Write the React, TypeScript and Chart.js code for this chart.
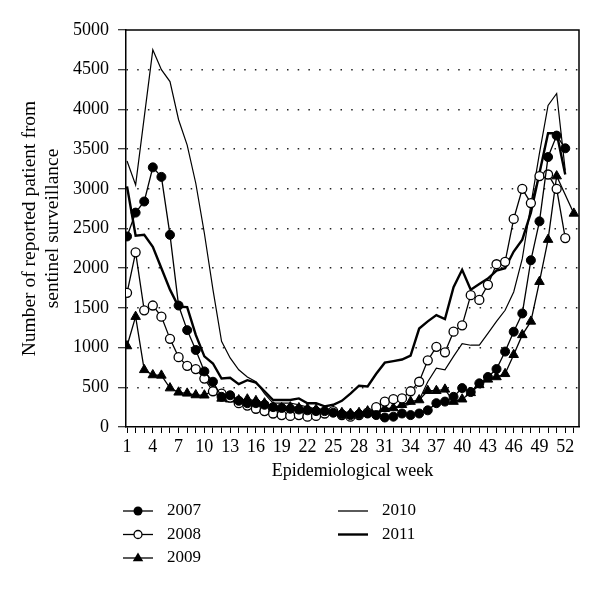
import React, { useEffect, useRef } from "react";
import { Chart, registerables } from "chart.js";

Chart.register(...registerables);

const weeks = Array.from({ length: 53 }, (_, i) => i + 1);

const y2007 = [2400, 2700, 2840, 3270, 3150, 2420, 1530, 1220, 970, 700, 570, 380, 400, 330, 300, 300, 280, 250, 240, 230, 220, 210, 200, 200, 180, 160, 150, 160, 170, 150, 120, 130, 170, 150, 170, 210, 300, 320, 380, 490, 440, 550, 630, 730, 950, 1200, 1430, 2100, 2590, 3400, 3670, 3510];
const y2008 = [1690, 2200, 1470, 1530, 1390, 1110, 880, 770, 730, 610, 450, 420, 370, 300, 270, 230, 200, 170, 150, 140, 150, 130, 140, 170, 200, 150, 130, 150, 180, 250, 320, 350, 360, 450, 570, 840, 1010, 940, 1200, 1280, 1660, 1600, 1790, 2050, 2080, 2620, 3000, 2820, 3160, 3180, 3000, 2380];
const y2009 = [1020, 1390, 720, 655, 650, 490, 437, 424, 403, 400, 460, 360, 350, 340, 350, 330, 300, 250, 240, 250, 240, 230, 220, 200, 190, 180, 170, 180, 200, 220, 230, 240, 280, 320, 340, 457, 457, 474, 320, 350, 430, 530, 600, 630, 670, 910, 1160, 1330, 1830, 2360, 3160, null, 2690];
const y2010 = [3350, 3050, 3900, 4750, 4500, 4350, 3870, 3550, 3070, 2440, 1730, 1080, 870, 720, 630, 570, 420, 300, 300, 300, 280, 250, 230, 220, 200, 190, 180, 170, 180, 200, 220, 240, 260, 290, 340, 570, 740, 720, 890, 1050, 1030, 1030, 1180, 1330, 1470, 1700, 2120, 2800, 3450, 4050, 4200, 3230];
const y2011 = [3030, 2410, 2420, 2270, 2000, 1730, 1515, 1510, 1160, 890, 800, 610, 620, 540, 590, 560, 450, 340, 340, 340, 360, 300, 300, 260, 280, 330, 420, 520, 510, 670, 810, 830, 850, 900, 1240, 1330, 1410, 1360, 1760, 1980, 1730, 1800, 1870, 1970, 2000, 2210, 2360, 2700, 3200, 3700, 3700, 3180];

const yTitle = ["Number of reported patient from", "sentinel surveillance"];
const xTitle = "Epidemiological week";

const FONT = '"Liberation Serif", "Times New Roman", serif';

const toPoints = (arr: (number | null)[]) =>
  arr.map((v, i) => ({ x: weeks[i], y: v }));

type LegendItem = {
  label: string;
  style: "filled" | "open" | "triangle" | "none";
  lineWidth: number;
  col: number;
  row: number;
};

const legendItems: LegendItem[] = [
  { label: "2007", style: "filled", lineWidth: 1.3, col: 0, row: 0 },
  { label: "2008", style: "open", lineWidth: 1.3, col: 0, row: 1 },
  { label: "2009", style: "triangle", lineWidth: 1.3, col: 0, row: 2 },
  { label: "2010", style: "none", lineWidth: 1.3, col: 1, row: 0 },
  { label: "2011", style: "none", lineWidth: 2.4, col: 1, row: 1 },
];

const legendPlugin = {
  id: "customLegend",
  afterDraw(chart: any) {
    const ctx = chart.ctx as CanvasRenderingContext2D;
    const area = chart.chartArea;
    ctx.save();
    ctx.strokeStyle = "#000";
    ctx.lineWidth = 1.5;
    ctx.beginPath();
    ctx.moveTo(area.left, area.top);
    ctx.lineTo(area.right, area.top);
    ctx.lineTo(area.right, area.bottom);
    ctx.stroke();

    const colX = [123, 338];
    const rowY0 = area.bottom + 84;
    const rowGap = 23.5;
    ctx.font = `17px ${FONT}`;
    ctx.textBaseline = "middle";
    ctx.textAlign = "left";
    ctx.fillStyle = "#000";
    for (const it of legendItems) {
      const x = colX[it.col];
      const y = rowY0 + it.row * rowGap;
      ctx.lineWidth = it.lineWidth;
      ctx.strokeStyle = "#000";
      ctx.beginPath();
      ctx.moveTo(x, y);
      ctx.lineTo(x + 30, y);
      ctx.stroke();
      const cx = x + 15;
      if (it.style === "filled") {
        ctx.beginPath();
        ctx.arc(cx, y, 4.5, 0, Math.PI * 2);
        ctx.fillStyle = "#000";
        ctx.fill();
      } else if (it.style === "open") {
        ctx.beginPath();
        ctx.arc(cx, y, 4, 0, Math.PI * 2);
        ctx.fillStyle = "#fff";
        ctx.fill();
        ctx.lineWidth = 1.3;
        ctx.stroke();
      } else if (it.style === "triangle") {
        const r = 5.5;
        ctx.beginPath();
        ctx.moveTo(cx, y - r);
        ctx.lineTo(cx + r * 0.95, y + r * 0.6);
        ctx.lineTo(cx - r * 0.95, y + r * 0.6);
        ctx.closePath();
        ctx.fillStyle = "#000";
        ctx.fill();
      }
      ctx.fillStyle = "#000";
      ctx.fillText(it.label, x + 44, y);
    }
    ctx.restore();
  },
};

export default function App() {
  const ref = useRef<HTMLCanvasElement | null>(null);

  useEffect(() => {
    if (!ref.current) return;
    const chart = new Chart(ref.current, {
      type: "line",
      data: {
        datasets: [
          {
            label: "2007",
            data: toPoints(y2007),
            borderColor: "#000",
            borderWidth: 1.3,
            backgroundColor: "#000",
            pointStyle: "circle",
            pointRadius: 4.5,
            pointBorderWidth: 1,
            pointBackgroundColor: "#000",
            pointBorderColor: "#000",
            tension: 0,
          },
          {
            label: "2008",
            data: toPoints(y2008),
            borderColor: "#000",
            borderWidth: 1.3,
            backgroundColor: "#fff",
            pointStyle: "circle",
            pointRadius: 4.5,
            pointBorderWidth: 1.3,
            pointBackgroundColor: "#fff",
            pointBorderColor: "#000",
            tension: 0,
          },
          {
            label: "2009",
            data: toPoints(y2009),
            borderColor: "#000",
            borderWidth: 1.3,
            backgroundColor: "#000",
            pointStyle: "triangle",
            pointRadius: 5.5,
            pointBorderWidth: 1,
            pointBackgroundColor: "#000",
            pointBorderColor: "#000",
            spanGaps: true,
            tension: 0,
          },
          {
            label: "2010",
            data: toPoints(y2010),
            borderColor: "#000",
            borderWidth: 1.2,
            pointRadius: 0,
            tension: 0,
          },
          {
            label: "2011",
            data: toPoints(y2011),
            borderColor: "#000",
            borderWidth: 2.4,
            pointRadius: 0,
            tension: 0,
          },
        ],
      },
      options: {
        animation: false,
        responsive: false,
        devicePixelRatio: 1,
        layout: { padding: { left: 0, right: 21, top: 30, bottom: 100 } },
        plugins: {
          legend: { display: false },
          tooltip: { enabled: false },
        },
        scales: {
          x: {
            type: "linear",
            min: 0.88,
            max: 53.6,
            afterBuildTicks: (scale: any) => {
              scale.ticks = weeks.map((w) => ({ value: w }));
            },
            afterFit: (scale: any) => {
              scale.height = 63;
            },
            ticks: {
              autoSkip: false,
              maxRotation: 0,
              minRotation: 0,
              padding: 3,
              color: "#000",
              font: { family: FONT, size: 18 },
              callback: (v: any) =>
                (Number(v) - 1) % 3 === 0 && Number(v) <= 52 ? String(v) : "",
            },
            grid: {
              drawOnChartArea: false,
              drawTicks: true,
              tickLength: 6,
              tickColor: "#000",
              tickWidth: 1,
              color: "#000",
            },
            border: { display: true, color: "#000", width: 1.5 },
            title: {
              display: true,
              text: xTitle,
              color: "#000",
              font: { family: FONT, size: 18, lineHeight: 1.2 },
              padding: { top: 0, bottom: 8 },
            },
          },
          y: {
            type: "linear",
            min: 0,
            max: 5000,
            afterFit: (scale: any) => {
              scale.width = 126;
            },
            ticks: {
              stepSize: 500,
              padding: 9,
              color: "#000",
              font: { family: FONT, size: 18 },
              callback: (v: any) => String(v),
            },
            grid: {
              drawOnChartArea: true,
              drawTicks: true,
              tickLength: 8,
              tickColor: "#000",
              tickWidth: 1,
              lineWidth: 1.5,
              color: (ctx: any) =>
                ctx.tick && (ctx.tick.value === 0 || ctx.tick.value === 5000)
                  ? "rgba(0,0,0,0)"
                  : "#222",
            },
            border: { display: true, color: "#000", width: 1.5, dash: [1.5, 9.2] },
            title: {
              display: true,
              text: yTitle,
              color: "#000",
              font: { family: FONT, size: 19.5, lineHeight: 1.18 },
              padding: { top: 18.5, bottom: 0 },
            },
          },
        },
      },
      plugins: [legendPlugin],
    } as any);
    return () => chart.destroy();
  }, []);

  return (
    <div
      style={{
        position: "fixed",
        left: 0,
        top: 0,
        width: 600,
        height: 590,
        background: "#fff",
      }}
    >
      <canvas ref={ref} width={600} height={590} />
    </div>
  );
}
